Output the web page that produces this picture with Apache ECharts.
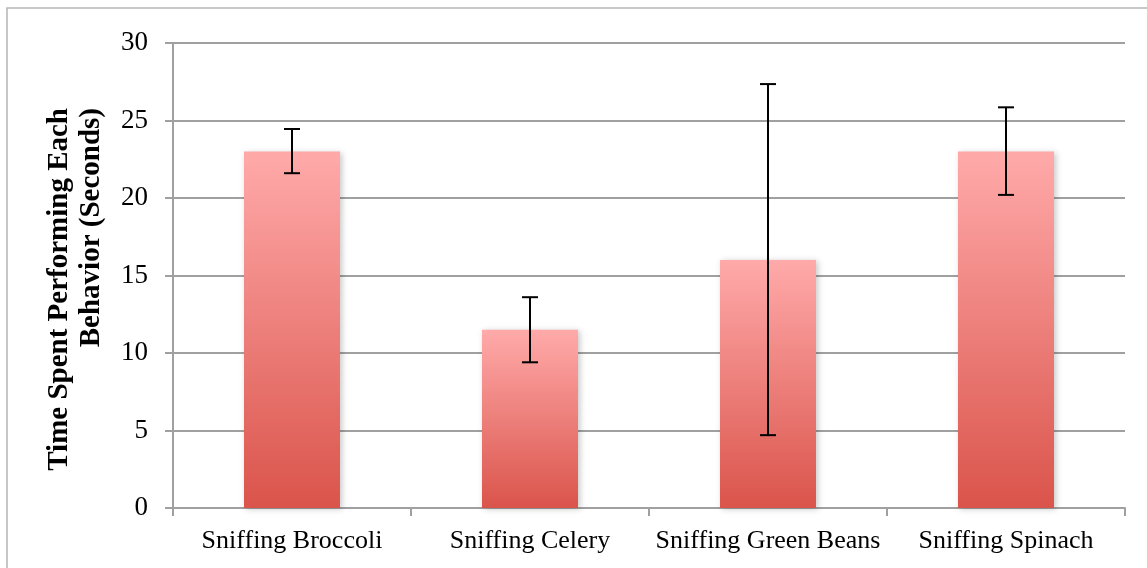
<!DOCTYPE html>
<html>
<head>
<meta charset="utf-8">
<script src="https://cdn.jsdelivr.net/npm/echarts@6/dist/echarts.min.js"></script>
<style>
  html, body { margin: 0; padding: 0; background: #fff; }
  #chart { width: 1147px; height: 568px; }
</style>
</head>
<body>
<div id="chart"></div>
<script>
// values
var categories = ['Sniffing Broccoli', 'Sniffing Celery', 'Sniffing Green Beans', 'Sniffing Spinach']
var meanTime = [23, 11.5, 16, 23]
var errLow = [21.6, 9.4, 4.7, 20.2]
var errHigh = [24.45, 13.6, 27.35, 25.85]
var yTicks = [0, 5, 10, 15, 20, 25, 30]

var FONT = 'Liberation Serif'

var chart = echarts.init(document.getElementById('chart'))

// error bar: vertical line + caps
function renderErr(params, api) {
  var i = api.value(0)
  var lo = api.coord([i, api.value(1)])
  var hi = api.coord([i, api.value(2)])
  var half = 8
  var style = { stroke: '#000', lineWidth: 2 }
  return {
    type: 'group',
    children: [
      { type: 'line', shape: { x1: lo[0], y1: lo[1], x2: hi[0], y2: hi[1] }, style: style },
      { type: 'line', shape: { x1: lo[0] - half, y1: lo[1], x2: lo[0] + half, y2: lo[1] }, style: style },
      { type: 'line', shape: { x1: hi[0] - half, y1: hi[1], x2: hi[0] + half, y2: hi[1] }, style: style }
    ]
  }
}

chart.setOption({
  animation: false,
  grid: { left: 173, right: 22, top: 43, bottom: 60 },
  graphic: [
    {
      type: 'rect',
      shape: { x: 7, y: 8, width: 1200, height: 620 },
      style: { fill: 'none', stroke: '#b5b5b5', lineWidth: 1.5 },
      z: -1
    },
    {
      type: 'text',
      x: 44,
      y: 108,
      rotation: Math.PI / 2,
      style: {
        text: 'Time Spent Performing Each\nBehavior (Seconds)',
        font: 'bold 29px "' + FONT + '"',
        lineHeight: 32,
        align: 'right',
        verticalAlign: 'top',
        fill: '#000'
      }
    }
  ],
  xAxis: {
    type: 'category',
    data: categories,
    axisLine: { lineStyle: { color: '#a0a0a0', width: 2 } },
    axisTick: { show: true, length: 8, lineStyle: { color: '#a0a0a0', width: 2 } },
    axisLabel: { color: '#000', fontFamily: FONT, fontSize: 26, margin: 20, interval: 0 }
  },
  yAxis: {
    type: 'value',
    min: yTicks[0],
    max: yTicks[yTicks.length - 1],
    interval: 5,
    axisLine: { show: true, lineStyle: { color: '#a0a0a0', width: 2 } },
    axisTick: { show: true, length: 8, lineStyle: { color: '#a0a0a0', width: 2 } },
    axisLabel: { color: '#000', fontFamily: FONT, fontSize: 27, margin: 25 },
    splitLine: { lineStyle: { color: '#a0a0a0', width: 2 } }
  },
  series: [
    {
      type: 'bar',
      data: meanTime,
      barWidth: 96,
      itemStyle: {
        color: new echarts.graphic.LinearGradient(0, 0, 0, 1, [
          { offset: 0, color: '#ffaaaa' },
          { offset: 1, color: '#da544b' }
        ]),
        shadowBlur: 6,
        shadowColor: 'rgba(0,0,0,0.22)',
        shadowOffsetX: 2,
        shadowOffsetY: 1
      }
    },
    {
      type: 'custom',
      renderItem: renderErr,
      data: categories.map(function (c, i) { return [i, errLow[i], errHigh[i]] }),
      z: 5
    }
  ]
})
</script>
</body>
</html>
